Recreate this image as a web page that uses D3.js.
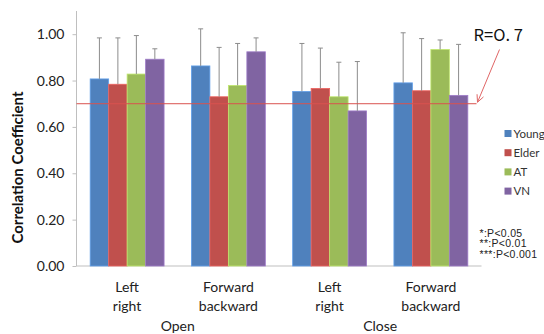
<!DOCTYPE html>
<html>
<head>
<meta charset="utf-8">
<script src="https://cdn.jsdelivr.net/npm/d3@7"></script>
<style>
  html, body { margin: 0; padding: 0; background: #fff; }
  svg { display: block; }
  text { font-family: Lato, "Open Sans", sans-serif; }
</style>
</head>
<body>
<svg id="chart" width="544" height="334"></svg>
<script>
// Movement directions (two-line labels) and eye conditions
const categories = ["Left|right", "Forward|backward", "Left|right", "Forward|backward"];
const conditions = ["Open", "Close"];

// Groups and their colours
const seriesNames = ["Young", "Elder", "AT", "VN"];
const seriesColors = ["#4f81bd", "#c0504d", "#9bbb59", "#8064a2"];

// Mean correlation coefficient per direction
const youngMean = [0.807, 0.863, 0.753, 0.790];
const elderMean = [0.784, 0.730, 0.766, 0.756];
const atMean    = [0.828, 0.779, 0.730, 0.934];
const vnMean    = [0.892, 0.924, 0.669, 0.736];

// Standard deviations (upper whiskers)
const youngSD = [0.177, 0.160, 0.207, 0.216];
const elderSD = [0.200, 0.213, 0.174, 0.225];
const atSD    = [0.166, 0.181, 0.149, 0.041];
const vnSD    = [0.045, 0.060, 0.213, 0.220];

const yTicks = [0, 0.2, 0.4, 0.6, 0.8, 1.0];
const threshold = 0.7;
const thresholdLabel = "R=O. 7";
const pNotes = ["*:P<0.05", "**:P<0.01", "***:P<0.001"];

const means = [youngMean, elderMean, atMean, vnMean];
const sds = [youngSD, elderSD, atSD, vnSD];

const svg = d3.select("#chart");
const plot = { left: 76.5, right: 481.5, top: 11, bottom: 266 };

const x0 = d3.scaleBand()
  .domain(d3.range(categories.length))
  .range([plot.left, plot.right])
  .paddingInner(0.27)
  .paddingOuter(0.135);

const x1 = d3.scaleBand()
  .domain(d3.range(seriesNames.length))
  .range([0, x0.bandwidth()]);

const y = d3.scaleLinear().domain([0, 1.1]).range([plot.bottom, plot.top]);

// Y axis
const yAxis = svg.append("g")
  .attr("transform", `translate(${plot.left},0)`)
  .call(d3.axisLeft(y).tickValues(yTicks).tickFormat(d3.format(".2f")).tickSize(4).tickPadding(8));
yAxis.select(".domain").attr("stroke", "#bfbfbf").attr("d", `M-0,${plot.top}V${plot.bottom}`);
yAxis.selectAll(".tick line").attr("stroke", "#bfbfbf");
yAxis.selectAll(".tick text")
  .attr("font-size", 14).attr("fill", "#222")
  .style("font-family", "Lato, sans-serif");

// X axis baseline
svg.append("line")
  .attr("x1", plot.left).attr("x2", plot.right)
  .attr("y1", y(0)).attr("y2", y(0))
  .attr("stroke", "#bfbfbf");

// Bars
const groups = svg.append("g").selectAll("g")
  .data(categories)
  .join("g")
  .attr("transform", (d, i) => `translate(${x0(i)},0)`);

groups.each(function(cat, ci) {
  const g = d3.select(this);
  seriesNames.forEach((name, si) => {
    const v = means[si][ci];
    g.append("rect")
      .attr("x", x1(si))
      .attr("y", y(v))
      .attr("width", x1.bandwidth())
      .attr("height", y(0) - y(v))
      .attr("fill", seriesColors[si])
      .attr("stroke", d3.color(seriesColors[si]).brighter(0.6))
      .attr("stroke-width", 0.8);
  });
});

// Error bars (upper side)
groups.each(function(cat, ci) {
  const g = d3.select(this);
  seriesNames.forEach((name, si) => {
    const v = means[si][ci], e = sds[si][ci];
    const cx = x1(si) + x1.bandwidth() / 2;
    g.append("line")
      .attr("x1", cx).attr("x2", cx)
      .attr("y1", y(v)).attr("y2", y(v + e))
      .attr("stroke", "#8c8c8c").attr("stroke-width", 1);
    g.append("line")
      .attr("x1", cx - 2.5).attr("x2", cx + 2.5)
      .attr("y1", y(v + e)).attr("y2", y(v + e))
      .attr("stroke", "#8c8c8c").attr("stroke-width", 1);
  });
});

// Threshold line
const lineEnd = 476.5;
svg.append("line")
  .attr("x1", plot.left).attr("x2", lineEnd)
  .attr("y1", y(threshold)).attr("y2", y(threshold))
  .attr("stroke", "#d9534f").attr("stroke-width", 1);

// Arrow pointing at the threshold
const ax0 = 499.5, ay0 = 49.5, ax1 = 477.5, ay1 = y(threshold) - 1.5;
svg.append("line")
  .attr("x1", ax0).attr("y1", ay0).attr("x2", ax1).attr("y2", ay1)
  .attr("stroke", "#e06666").attr("stroke-width", 1);
const ang = Math.atan2(ay1 - ay0, ax1 - ax0);
const headLen = 8, spread = 0.45;
svg.append("path")
  .attr("d", `M${ax1 - headLen * Math.cos(ang - spread)},${ay1 - headLen * Math.sin(ang - spread)}L${ax1},${ay1}L${ax1 - headLen * Math.cos(ang + spread)},${ay1 - headLen * Math.sin(ang + spread)}`)
  .attr("fill", "none").attr("stroke", "#e06666").attr("stroke-width", 1);

svg.append("text")
  .attr("x", 473.5).attr("y", 41)
  .attr("font-size", 16.5)
  .style("font-family", "'Noto Sans CJK JP', sans-serif")
  .attr("fill", "#111")
  .text(thresholdLabel);

// Category labels
groups.each(function(cat, ci) {
  const g = d3.select(this);
  const lines = cat.split("|");
  lines.forEach((ln, li) => {
    g.append("text")
      .attr("x", x0.bandwidth() / 2)
      .attr("y", 291.5 + li * 19)
      .attr("text-anchor", "middle")
      .attr("font-size", 14)
      .attr("fill", "#222")
      .text(ln);
  });
});

// Condition labels centred under each pair of directions
conditions.forEach((c, i) => {
  const a = x0(i * 2) + x0.bandwidth() / 2;
  const b = x0(i * 2 + 1) + x0.bandwidth() / 2;
  svg.append("text")
    .attr("x", (a + b) / 2)
    .attr("y", 330.5)
    .attr("text-anchor", "middle")
    .attr("font-size", 14)
    .attr("fill", "#222")
    .text(c);
});

// Y axis title
svg.append("text")
  .attr("transform", `translate(23,167.5) rotate(-90)`)
  .attr("text-anchor", "middle")
  .attr("font-size", 15)
  .attr("font-weight", "bold")
  .attr("fill", "#111")
  .text("Correlation Coefficient");

// Legend
const legend = svg.append("g");
seriesNames.forEach((name, i) => {
  const cy = 133.5 + i * 19.2;
  legend.append("rect")
    .attr("x", 504.5).attr("y", cy - 3.5)
    .attr("width", 7).attr("height", 7)
    .attr("fill", seriesColors[i]);
  legend.append("text")
    .attr("x", 513.5).attr("y", cy + 4)
    .attr("font-size", 11.5)
    .attr("fill", "#333")
    .text(name);
});

// Significance notes
pNotes.forEach((t, i) => {
  svg.append("text")
    .attr("x", 479.5).attr("y", 236.5 + i * 10.7)
    .style("font-size", "10.5px")
    .style("letter-spacing", "0.3px")
    .style("font-family", "'Liberation Sans', Arial, sans-serif")
    .attr("fill", "#222")
    .text(t);
});
</script>
</body>
</html>
